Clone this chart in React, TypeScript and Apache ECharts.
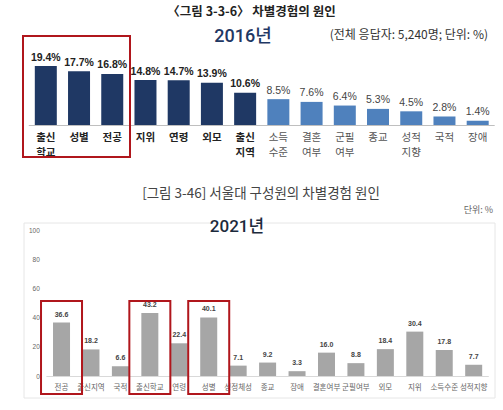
import React, { useEffect, useRef } from "react";
import * as echarts from "echarts";

const cats2016 = ["출신\n학교", "성별", "전공", "지위", "연령", "외모", "출신\n지역", "소득\n수준", "결혼\n여부", "군필\n여부", "종교", "성적\n지향", "국적", "장애"];
const values2016 = [19.4, 17.7, 16.8, 14.8, 14.7, 13.9, 10.6, 8.5, 7.6, 6.4, 5.3, 4.5, 2.8, 1.4];
const darkCount2016 = 7;

const cats2021 = ["전공", "출신지역", "국적", "출신학교", "연령", "성별", "성정체성", "종교", "장애", "결혼여부", "군필여부", "외모", "지위", "소득수준", "성적지향"];
const values2021 = [36.6, 18.2, 6.6, 43.2, 22.4, 40.1, 7.1, 9.2, 3.3, 16.0, 8.8, 18.4, 30.4, 17.8, 7.7];
const highlight2021 = ["전공", "출신학교", "성별"];

const FONT = "'Noto Sans CJK KR', sans-serif";
const YEARFONT = "Roboto, 'Noto Sans CJK KR', sans-serif";
const NAVY = "#1f3864";
const BLUE = "#4f81bd";
const RED = "#b0161c";

export default function App() {
  const ref = useRef<HTMLDivElement>(null);
  useEffect(() => {
    if (!ref.current) return;
    const chart = echarts.init(ref.current, undefined, { renderer: "svg" });
    const option: any = {
      animation: false,
      textStyle: { fontFamily: FONT },
      grid: [
        { left: 29.2, right: 8.7, top: 64.2, height: 60.8 },
        { left: 46.8, right: 14.6, top: 230, height: 146 },
      ],
      xAxis: [
        {
          type: "category",
          gridIndex: 0,
          data: cats2016.map((c, i) => ({
            value: c,
            textStyle: {
              color: i < darkCount2016 ? "#222" : "#555",
              fontWeight: i < darkCount2016 ? "bold" : "normal",
            },
          })),
          axisLine: { lineStyle: { color: "#bfbfbf" } },
          axisTick: { show: false },
          axisLabel: { interval: 0, fontSize: 10.5, lineHeight: 15, margin: 4, fontFamily: FONT },
        },
        {
          type: "category",
          gridIndex: 1,
          data: cats2021,
          axisLine: { lineStyle: { color: "#d9d9d9" } },
          axisTick: { show: false },
          axisLabel: { interval: 0, fontSize: 7.5, color: "#666", margin: 7, fontFamily: FONT },
        },
      ],
      yAxis: [
        { type: "value", gridIndex: 0, min: 0, max: 20, show: false },
        {
          type: "value",
          gridIndex: 1,
          min: 0,
          max: 100,
          interval: 20,
          axisLine: { show: false },
          axisTick: { show: false },
          splitLine: { show: false },
          axisLabel: { fontSize: 6.5, color: "#666", margin: 7, fontFamily: "Liberation Sans" },
        },
      ],
      series: [
        {
          type: "bar",
          xAxisIndex: 0,
          yAxisIndex: 0,
          barWidth: 22,
          data: values2016.map((v, i) => ({
            value: v,
            itemStyle: { color: i < darkCount2016 ? NAVY : BLUE },
            label: {
              color: i < darkCount2016 ? "#222" : "#444",
              fontWeight: i < darkCount2016 ? "bold" : "normal",
            },
          })),
          label: {
            show: true,
            position: "top",
            distance: 4,
            fontSize: 10.5,
            fontFamily: "Liberation Sans",
            formatter: (p: any) => p.value.toFixed(1) + "%",
          },
        },
        {
          type: "bar",
          xAxisIndex: 1,
          yAxisIndex: 1,
          barWidth: 17,
          itemStyle: { color: "#a6a6a6" },
          data: values2021,
          label: {
            show: true,
            position: "top",
            distance: 5,
            fontSize: 7,
            fontWeight: "bold",
            color: "#444",
            fontFamily: "Liberation Sans",
            formatter: (p: any) => p.value.toFixed(1),
          },
        },
      ],
      graphic: [
        { type: "text", left: "center", top: 4, style: { text: "〈그림 3-3-6〉 차별경험의 원인", fontSize: 12.5, fontWeight: "bold", fill: "#222", fontFamily: FONT } },
        { type: "text", x: 243, y: 35, style: { text: "2016년", fontSize: 18, fontWeight: 500, fill: "#1f3864", fontFamily: YEARFONT, align: "center", verticalAlign: "middle" } },
        { type: "text", x: 488, y: 33, style: { text: "(전체 응답자: 5,240명; 단위: %)", fontSize: 12, fill: "#333", fontFamily: FONT, align: "right", verticalAlign: "middle" } },
        { type: "text", x: 261, y: 192, style: { text: "[그림 3-46] 서울대 구성원의 차별경험 원인", fontSize: 13.5, fill: "#444", fontFamily: FONT, align: "center", verticalAlign: "middle" } },
        { type: "text", x: 493, y: 209, style: { text: "단위: %", fontSize: 9, fill: "#666", fontFamily: FONT, align: "right", verticalAlign: "middle" } },
        { type: "rect", shape: { x: 24, y: 223, width: 471, height: 175 }, style: { fill: "none", stroke: "#e6e6e6", lineWidth: 1 }, z: -1 },
        { type: "rect", shape: { x: 214, y: 214, width: 48, height: 14 }, style: { fill: "#fff" }, z: 0 },
        { type: "text", x: 237, y: 226, style: { text: "2021년", fontSize: 17, fontWeight: 500, fill: "#1c2a3c", fontFamily: YEARFONT, align: "center", verticalAlign: "middle" }, z: 1 },
        { type: "rect", shape: { x: 23, y: 36, width: 107, height: 121 }, style: { fill: "none", stroke: RED, lineWidth: 2 }, z: 10 },
      ],
    };
    chart.setOption(option);
    const extra: any[] = [];
    highlight2021.forEach((c) => {
      const p = chart.convertToPixel({ gridIndex: 1 } as any, [c, 0]) as number[];
      extra.push({ type: "rect", shape: { x: p[0] - 20.5, y: 301, width: 41, height: 93 }, style: { fill: "none", stroke: RED, lineWidth: 2 }, z: 10 });
    });
    chart.setOption({ graphic: [...option.graphic, ...extra] });
    return () => chart.dispose();
  }, []);
  return <div ref={ref} style={{ position: "fixed", left: 0, top: 0, width: 503, height: 410, background: "#fff" }} />;
}
